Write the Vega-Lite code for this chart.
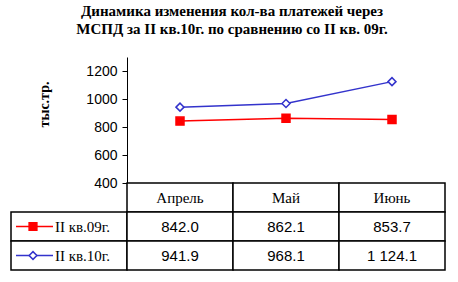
{
  "$schema": "https://vega.github.io/schema/vega-lite/v6.json",
  "background": "white",
  "padding": {"left": 10, "top": 4, "right": 14, "bottom": 12},
  "config": {
    "locale": {"number": {"decimal": ".", "thousands": " ", "grouping": [3], "currency": ["", ""]}},
    "view": {"stroke": null},
    "concat": {"spacing": 0}
  },
  "title": {
    "text": ["Динамика изменения кол-ва платежей через", "МСПД за II кв.10г. по сравнению со II кв. 09г."],
    "font": "Liberation Serif",
    "fontSize": 15,
    "fontWeight": "bold",
    "color": "black",
    "lineHeight": 18,
    "anchor": "middle",
    "dx": 4,
    "offset": 20
  },
  "datasets": {
    "vals": [
      {"month": "Апрель", "series": "II кв.09г.", "value": 842.0},
      {"month": "Май", "series": "II кв.09г.", "value": 862.1},
      {"month": "Июнь", "series": "II кв.09г.", "value": 853.7},
      {"month": "Апрель", "series": "II кв.10г.", "value": 941.9},
      {"month": "Май", "series": "II кв.10г.", "value": 968.1},
      {"month": "Июнь", "series": "II кв.10г.", "value": 1124.1}
    ],
    "months": [{"month": "Апрель"}, {"month": "Май"}, {"month": "Июнь"}],
    "series": [{"series": "II кв.09г."}, {"series": "II кв.10г."}]
  },
  "columns": 2,
  "bounds": "flush",
  "spacing": 0,
  "concat": [
    {
      "width": 116,
      "height": 126,
      "data": {"values": []},
      "mark": {"type": "text"},
      "encoding": {}
    },
    {
      "width": 318,
      "height": 126,
      "data": {"name": "vals"},
      "encoding": {
        "x": {"field": "month", "type": "ordinal", "sort": ["Апрель", "Май", "Июнь"], "scale": {"type": "point", "padding": 0.5}, "axis": null},
        "y": {
          "field": "value", "type": "quantitative",
          "scale": {"domain": [400, 1300], "nice": false, "zero": false},
          "axis": {
            "values": [400, 600, 800, 1000, 1200],
            "format": "d",
            "title": "тыс.тр.",
            "titleFont": "Liberation Serif",
            "titleFontSize": 14,
            "titleFontWeight": "bold",
            "titleColor": "black",
            "titleX": -83,
            "titleY": 47,
            "titleAngle": -90,
            "titleAlign": "center",
            "titleBaseline": "middle",
            "labelFont": "Liberation Sans",
            "labelFontSize": 14,
            "labelColor": "black",
            "labelPadding": 5,
            "tickSize": 5,
            "tickColor": "black",
            "domainColor": "black",
            "grid": false
          }
        },
        "color": {"field": "series", "type": "nominal", "scale": {"domain": ["II кв.09г.", "II кв.10г."], "range": ["#ff0000", "#3333cc"]}, "legend": null}
      },
      "layer": [
        {"mark": {"type": "line", "strokeWidth": 1.5}},
        {
          "mark": {"type": "point", "filled": false, "strokeWidth": 1.5, "opacity": 1},
          "encoding": {
            "shape": {"field": "series", "type": "nominal", "scale": {"domain": ["II кв.09г.", "II кв.10г."], "range": ["square", "diamond"]}, "legend": null},
            "fill": {"field": "series", "type": "nominal", "scale": {"domain": ["II кв.09г.", "II кв.10г."], "range": ["#ff0000", "#ffffff"]}, "legend": null},
            "size": {"value": 64}
          }
        }
      ]
    },
    {
      "width": 116,
      "height": 87,
      "data": {"name": "series"},
      "encoding": {
        "y": {"field": "series", "type": "nominal", "scale": {"type": "band", "domain": ["", "II кв.09г.", "II кв.10г."], "paddingInner": 0, "paddingOuter": 0}, "axis": null}
      },
      "layer": [
        {"mark": {"type": "rect", "fill": "white", "stroke": "black", "strokeWidth": 1.5}},
        {
          "mark": {"type": "rule", "strokeWidth": 1.5},
          "encoding": {
            "x": {"value": 5},
            "x2": {"value": 42},
            "y": {"field": "series", "type": "nominal", "bandPosition": 0.5, "axis": null},
            "color": {"field": "series", "type": "nominal", "scale": {"domain": ["II кв.09г.", "II кв.10г."], "range": ["#ff0000", "#3333cc"]}, "legend": null}
          }
        },
        {
          "mark": {"type": "point", "filled": false, "strokeWidth": 1.5, "opacity": 1, "size": 60},
          "encoding": {
            "x": {"value": 22},
            "y": {"field": "series", "type": "nominal", "bandPosition": 0.5, "axis": null},
            "color": {"field": "series", "type": "nominal", "scale": {"domain": ["II кв.09г.", "II кв.10г."], "range": ["#ff0000", "#3333cc"]}, "legend": null},
            "shape": {"field": "series", "type": "nominal", "scale": {"domain": ["II кв.09г.", "II кв.10г."], "range": ["square", "diamond"]}, "legend": null},
            "fill": {"field": "series", "type": "nominal", "scale": {"domain": ["II кв.09г.", "II кв.10г."], "range": ["#ff0000", "#ffffff"]}, "legend": null}
          }
        },
        {
          "mark": {"type": "text", "align": "left", "baseline": "middle", "font": "Liberation Serif", "fontSize": 15, "color": "black"},
          "encoding": {
            "x": {"value": 44},
            "y": {"field": "series", "type": "nominal", "bandPosition": 0.5, "axis": null},
            "text": {"field": "series", "type": "nominal"}
          }
        }
      ]
    },
    {
      "width": 318,
      "height": 87,
      "encoding": {
        "x": {"field": "month", "type": "nominal", "sort": ["Апрель", "Май", "Июнь"], "scale": {"type": "band", "paddingInner": 0, "paddingOuter": 0}, "axis": null}
      },
      "resolve": {"scale": {"y": "shared"}},
      "layer": [
        {
          "data": {"name": "months"},
          "mark": {"type": "rect", "fill": "white", "stroke": "black", "strokeWidth": 1.5},
          "encoding": {
            "y": {"datum": "", "type": "nominal", "scale": {"type": "band", "domain": ["", "II кв.09г.", "II кв.10г."], "paddingInner": 0, "paddingOuter": 0}, "axis": null}
          }
        },
        {
          "data": {"name": "vals"},
          "mark": {"type": "rect", "fill": "white", "stroke": "black", "strokeWidth": 1.5},
          "encoding": {
            "y": {"field": "series", "type": "nominal", "axis": null}
          }
        },
        {
          "data": {"name": "months"},
          "mark": {"type": "text", "baseline": "middle", "font": "Liberation Serif", "fontSize": 15, "color": "black"},
          "encoding": {
            "x": {"field": "month", "type": "nominal", "sort": ["Апрель", "Май", "Июнь"], "bandPosition": 0.5, "axis": null},
            "y": {"datum": "", "type": "nominal", "bandPosition": 0.5, "axis": null},
            "text": {"field": "month", "type": "nominal"}
          }
        },
        {
          "data": {"name": "vals"},
          "mark": {"type": "text", "baseline": "middle", "font": "Liberation Sans", "fontSize": 15, "color": "black"},
          "encoding": {
            "x": {"field": "month", "type": "nominal", "sort": ["Апрель", "Май", "Июнь"], "bandPosition": 0.5, "axis": null},
            "y": {"field": "series", "type": "nominal", "bandPosition": 0.5, "axis": null},
            "text": {"field": "value", "type": "quantitative", "format": ",.1f"}
          }
        }
      ]
    }
  ]
}
